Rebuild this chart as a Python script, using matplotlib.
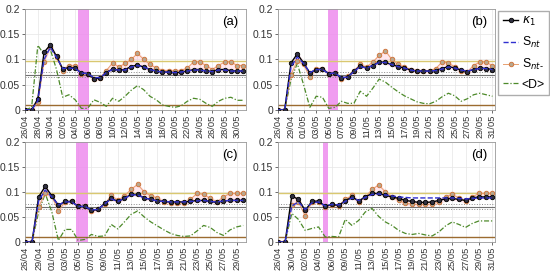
import matplotlib
matplotlib.use('Agg')
import matplotlib.pyplot as plt

plt.rcParams['font.family'] = ['Liberation Sans', 'DejaVu Sans']

# panel (a)
labels_a = ['26/04', '28/04', '30/04', '02/05', '04/05', '06/05', '08/05', '10/05', '12/05',
            '14/05', '16/05', '18/05', '20/05', '22/05', '24/05', '26/05', '28/05', '30/05']
kappa_a = [0, 0, 0.022, 0.114, 0.129, 0.106, 0.081, 0.084, 0.083, 0.073, 0.072, 0.062,
           0.063, 0.074, 0.081, 0.079, 0.080, 0.086, 0.089, 0.085, 0.080, 0.077, 0.075,
           0.075, 0.073, 0.075, 0.077, 0.080, 0.080, 0.077, 0.076, 0.080, 0.080, 0.078,
           0.077, 0.077]
snt_a = [0, 0, 0.018, 0.100, 0.124, 0.104, 0.082, 0.083, 0.082, 0.073, 0.072, 0.064,
         0.064, 0.074, 0.080, 0.079, 0.079, 0.085, 0.088, 0.085, 0.080, 0.077, 0.075,
         0.075, 0.074, 0.075, 0.077, 0.079, 0.079, 0.077, 0.076, 0.079, 0.079, 0.077,
         0.077, 0.077]
sntm_a = [0, 0, 0.015, 0.095, 0.125, 0.105, 0.078, 0.088, 0.087, 0.071, 0.071, 0.061,
          0.064, 0.078, 0.093, 0.085, 0.092, 0.100, 0.112, 0.100, 0.090, 0.083, 0.078,
          0.078, 0.077, 0.078, 0.083, 0.095, 0.095, 0.088, 0.080, 0.088, 0.095, 0.095,
          0.088, 0.088]
d_a = [0, 0.005, 0.128, 0.110, 0.120, 0.080, 0.025, 0.030, 0.020, 0.003, 0.003, 0.020,
       0.015, 0.007, 0.023, 0.017, 0.027, 0.039, 0.048, 0.040, 0.027, 0.020, 0.010,
       0.007, 0.005, 0.008, 0.017, 0.023, 0.021, 0.013, 0.007, 0.017, 0.023, 0.025,
       0.019, 0.019]

# panel (b)
labels_b = ['26/04', '29/04', '01/05', '03/05', '05/05', '07/05', '09/05', '11/05', '13/05',
            '15/05', '17/05', '19/05', '21/05', '23/05', '25/05', '27/05', '29/05', '31/05']
kappa_b = [0, 0, 0.093, 0.111, 0.093, 0.073, 0.080, 0.081, 0.072, 0.073, 0.063, 0.065,
           0.077, 0.087, 0.083, 0.088, 0.095, 0.094, 0.090, 0.086, 0.083, 0.079, 0.077,
           0.077, 0.077, 0.078, 0.082, 0.086, 0.083, 0.079, 0.076, 0.080, 0.083, 0.082,
           0.080]
snt_b = [0, 0, 0.085, 0.105, 0.092, 0.074, 0.080, 0.080, 0.072, 0.073, 0.064, 0.065,
         0.076, 0.086, 0.083, 0.088, 0.094, 0.094, 0.090, 0.086, 0.083, 0.079, 0.077,
         0.077, 0.077, 0.078, 0.081, 0.085, 0.083, 0.079, 0.077, 0.080, 0.082, 0.082,
         0.080]
sntm_b = [0, 0, 0.070, 0.097, 0.090, 0.065, 0.082, 0.082, 0.072, 0.073, 0.062, 0.067,
          0.078, 0.090, 0.085, 0.095, 0.108, 0.117, 0.100, 0.090, 0.085, 0.080, 0.078,
          0.077, 0.077, 0.082, 0.095, 0.093, 0.085, 0.078, 0.075, 0.088, 0.095, 0.095,
          0.087]
d_b = [0, 0, 0.060, 0.092, 0.050, 0.005, 0.027, 0.025, 0.003, 0.005, 0.017, 0.013,
       0.013, 0.037, 0.027, 0.043, 0.061, 0.055, 0.045, 0.036, 0.028, 0.022, 0.016,
       0.013, 0.012, 0.017, 0.026, 0.033, 0.028, 0.017, 0.022, 0.030, 0.033, 0.030,
       0.027]

# panel (c)
labels_c = ['26/04', '29/04', '01/05', '03/05', '05/05', '07/05', '09/05', '11/05', '13/05',
            '15/05', '17/05', '19/05', '21/05', '23/05', '25/05', '27/05', '29/05']
kappa_c = [0, 0, 0.090, 0.111, 0.092, 0.073, 0.081, 0.081, 0.071, 0.071, 0.063, 0.065,
           0.077, 0.087, 0.081, 0.087, 0.095, 0.095, 0.088, 0.085, 0.082, 0.081, 0.080,
           0.080, 0.080, 0.081, 0.083, 0.083, 0.081, 0.079, 0.082, 0.083, 0.083, 0.083]
snt_c = [0, 0, 0.082, 0.104, 0.090, 0.074, 0.080, 0.080, 0.071, 0.071, 0.064, 0.065,
         0.076, 0.086, 0.081, 0.087, 0.094, 0.094, 0.088, 0.085, 0.082, 0.081, 0.080,
         0.080, 0.080, 0.081, 0.082, 0.083, 0.081, 0.080, 0.082, 0.083, 0.083, 0.083]
sntm_c = [0, 0, 0.070, 0.097, 0.091, 0.062, 0.080, 0.081, 0.071, 0.071, 0.061, 0.065,
          0.075, 0.093, 0.083, 0.092, 0.105, 0.115, 0.100, 0.092, 0.088, 0.080, 0.078,
          0.077, 0.078, 0.085, 0.097, 0.095, 0.087, 0.080, 0.090, 0.097, 0.097, 0.097]
d_c = [0, 0, 0.060, 0.097, 0.060, 0.003, 0.025, 0.025, 0.003, 0.005, 0.015, 0.011,
       0.012, 0.035, 0.026, 0.040, 0.055, 0.062, 0.050, 0.040, 0.032, 0.024, 0.017,
       0.013, 0.011, 0.012, 0.022, 0.033, 0.029, 0.019, 0.013, 0.024, 0.030, 0.033]

# panel (d)
labels_d = ['26/04', '30/04', '02/05', '04/05', '06/05', '09/05', '11/05', '13/05', '15/05',
            '17/05', '19/05', '21/05', '23/05', '25/05', '27/05', '29/05', '31/05']
kappa_d = [0, 0, 0.092, 0.085, 0.063, 0.081, 0.082, 0.071, 0.075, 0.073, 0.082, 0.090,
           0.082, 0.090, 0.097, 0.097, 0.093, 0.090, 0.087, 0.083, 0.081, 0.079, 0.079,
           0.080, 0.083, 0.086, 0.087, 0.085, 0.083, 0.088, 0.090, 0.090, 0.090]
snt_d = [0, 0, 0.072, 0.080, 0.065, 0.078, 0.080, 0.072, 0.075, 0.074, 0.081, 0.088,
         0.083, 0.089, 0.095, 0.096, 0.094, 0.092, 0.090, 0.089, 0.088, 0.088, 0.088,
         0.088, 0.088, 0.088, 0.088, 0.087, 0.086, 0.087, 0.088, 0.088, 0.088]
sntm_d = [0, 0, 0.073, 0.080, 0.052, 0.080, 0.080, 0.070, 0.074, 0.072, 0.085, 0.093,
          0.080, 0.090, 0.105, 0.114, 0.100, 0.090, 0.083, 0.077, 0.076, 0.075, 0.075,
          0.076, 0.080, 0.090, 0.095, 0.088, 0.082, 0.090, 0.097, 0.097, 0.097]
d_d = [0, 0, 0.057, 0.045, 0.023, 0.027, 0.030, 0.010, 0.011, 0.010, 0.045, 0.033,
       0.043, 0.060, 0.067, 0.051, 0.040, 0.033, 0.023, 0.017, 0.015, 0.017, 0.014,
       0.012, 0.020, 0.032, 0.040, 0.035, 0.029, 0.037, 0.042, 0.042, 0.042]

# storm window (index units) for each panel
bands = [(8.5, 10.2), (7.9, 9.5), (7.7, 9.5), (6.6, 7.4)]

panels = [
    ('(a)', labels_a, kappa_a, snt_a, sntm_a, d_a),
    ('(b)', labels_b, kappa_b, snt_b, sntm_b, d_b),
    ('(c)', labels_c, kappa_c, snt_c, sntm_c, d_c),
    ('(d)', labels_d, kappa_d, snt_d, sntm_d, d_d),
]
positions = [
    [0.045, 0.599, 0.402, 0.368],
    [0.505, 0.599, 0.395, 0.368],
    [0.045, 0.117, 0.402, 0.365],
    [0.505, 0.117, 0.395, 0.365],
]

fig = plt.figure(figsize=(5.5, 2.74), dpi=100)

for (tag, labels, kappa, snt, sntm, dd), pos, band in zip(panels, positions, bands):
    ax = fig.add_axes(pos)
    x = list(range(len(kappa)))
    ax.grid(True, color='#e6e6e6', lw=0.5)
    ax.set_axisbelow(True)
    ax.axvspan(band[0], band[1], color='#ee8cee', alpha=0.85, lw=0, zorder=1)
    lo = [min(k, s) - 0.004 for k, s in zip(kappa, sntm)]
    hi = [max(k, s) + 0.004 for k, s in zip(kappa, sntm)]
    ax.fill_between(x, lo, hi, color='#ffb0c8', alpha=0.3, lw=0, zorder=1)
    ax.axhline(0.097, color='#d9c870', lw=1.0, zorder=2)
    ax.axhline(0.075, color='#8a8a8a', lw=0.7, ls=':', zorder=2)
    ax.axhline(0.070, color='#707070', lw=0.8, zorder=2)
    ax.axhline(0.066, color='#8a8a8a', lw=0.7, ls=':', zorder=2)
    ax.axhline(0.010, color='#9c6b30', lw=1.0, zorder=2)
    ax.plot(x, dd, color='#4d8a2a', lw=0.9, ls=(0, (4, 1.5, 1, 1.5)), zorder=3, label='<D>')
    ax.plot(x, sntm, color='#e8a070', lw=0.7, marker='o', ms=3.2, mfc='#b8a890',
            mec='#d07840', mew=0.7, zorder=4, label='S$_{nt\u2010}$')
    ax.plot(x, kappa, color='k', lw=1.0, marker='o', ms=3.2, mfc='#303040',
            mec='k', mew=0.6, zorder=5, label='$\\kappa_1$')
    ax.plot(x, snt, color='#3030d0', lw=1.0, ls='--', zorder=6, label='S$_{nt}$')
    ax.set_xlim(-0.1, len(kappa) - 0.6)
    ax.set_ylim(0, 0.2)
    ax.set_yticks([0, 0.05, 0.1, 0.15, 0.2])
    ax.set_yticklabels(['0', '0.05', '0.1', '0.15', '0.2'], fontsize=7.5, color='#333333')
    ax.set_xticks(list(range(0, 2 * len(labels), 2)))
    ax.set_xticklabels(labels, rotation=90, fontsize=6.7, color='#333333')
    ax.tick_params(length=2, width=0.5, pad=1.5, colors='#333333')
    for s in ax.spines.values():
        s.set_color('#999999')
        s.set_linewidth(0.6)
    ax.text(0.965, 0.93, tag, transform=ax.transAxes, ha='right', va='top', fontsize=9.5)
    if tag == '(b)':
        handles, names = ax.get_legend_handles_labels()
        order = [2, 3, 1, 0]
        fig.legend([handles[i] for i in order], [names[i] for i in order],
                   loc='upper left', bbox_to_anchor=(0.906, 0.96), fontsize=8.8,
                   frameon=True, fancybox=False, edgecolor='#999999', handlelength=1.3,
                   handletextpad=0.25, borderpad=0.35, labelspacing=0.55, borderaxespad=0)

fig.savefig('out.png', dpi=100)
